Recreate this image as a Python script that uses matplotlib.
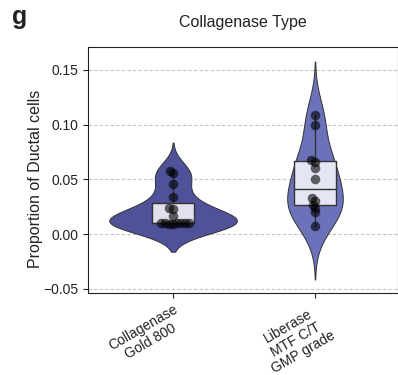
import numpy as np
import pandas as pd
import matplotlib
matplotlib.use('Agg')
import matplotlib.pyplot as plt
import seaborn as sns

plt.rcParams['font.family'] = ['Liberation Sans', 'DejaVu Sans']

# Data
categories = ['Collagenase\nGold 800', 'Liberase\nMTF C/T\nGMP grade']
gold800 = [0.0096, 0.0097, 0.0098, 0.0098, 0.0099, 0.0100, 0.0101, 0.0102,
           0.0167, 0.0232, 0.0238, 0.0335, 0.0455, 0.0560, 0.0580]
liberase = [0.0073, 0.0198, 0.0240, 0.0270, 0.0300, 0.0326,
            0.0500, 0.0600, 0.0660, 0.0675, 0.1000, 0.1090]
violin_colors = ['#4f5299', '#6b72ba']

df = pd.DataFrame({
    'type': [categories[0]] * len(gold800) + [categories[1]] * len(liberase),
    'prop': gold800 + liberase,
})

fig = plt.figure(figsize=(3.98, 3.75), dpi=100)
ax = fig.add_axes([0.221, 0.219, 0.779, 0.656])

n0 = len(ax.collections)
sns.violinplot(data=df, x='type', y='prop', order=categories, color=violin_colors[0],
               saturation=1, inner=None, density_norm='area', width=0.9,
               bw_adjust=1.0, cut=2.5, linewidth=0.7, linecolor='#333333', ax=ax)
for coll, c in zip(ax.collections[n0:], violin_colors):
    coll.set_facecolor(c)

ax.boxplot([gold800, liberase], positions=[0, 1], widths=0.3,
           patch_artist=True, showcaps=False, showfliers=False,
           boxprops=dict(facecolor=(1, 1, 1, 0.83), edgecolor='#333333', linewidth=1),
           medianprops=dict(color='#333333', linewidth=1),
           whiskerprops=dict(color='#333333', linewidth=1), zorder=3)

# swarm laid out with small markers, then shown with bigger ones (overlap like the original)
n1 = len(ax.collections)
sns.swarmplot(data=df, x='type', y='prop', order=categories, color='black',
              alpha=0.6, size=2.8, ax=ax, zorder=4)
swarm = ax.collections[n1:]

ax.set_xlim(-0.6, 1.585)
ax.set_ylim(-0.0536, 0.171)
ax.set_yticks([-0.05, 0.0, 0.05, 0.10, 0.15])
ax.set_xticks([0, 1])
ax.set_xticklabels(categories, rotation=30, ha='right', rotation_mode='anchor',
                   multialignment='center', linespacing=1.1)
ax.tick_params(labelsize=10, colors='#222222', length=3.5)
ax.yaxis.grid(True, linestyle=(0, (3, 2)), color='#c4c4c4', linewidth=0.8)
ax.set_axisbelow(True)
ax.set_xlabel('')
ax.set_ylabel('Proportion of Ductal cells', fontsize=11.5, color='#222222')
ax.yaxis.set_label_coords(-0.145, 0.465)
ax.set_title('Collagenase Type', fontsize=11.5, pad=14, color='#222222')
for s in ax.spines.values():
    s.set_color('#222222')

fig.text(0.03, 0.935, 'g', fontsize=18, fontweight='bold', color='#222222')

fig.canvas.draw()
for coll in swarm:
    if 'draw' in coll.__dict__:
        del coll.draw
    coll.set_sizes([6.9 ** 2])

fig.savefig('out.png', dpi=100)
